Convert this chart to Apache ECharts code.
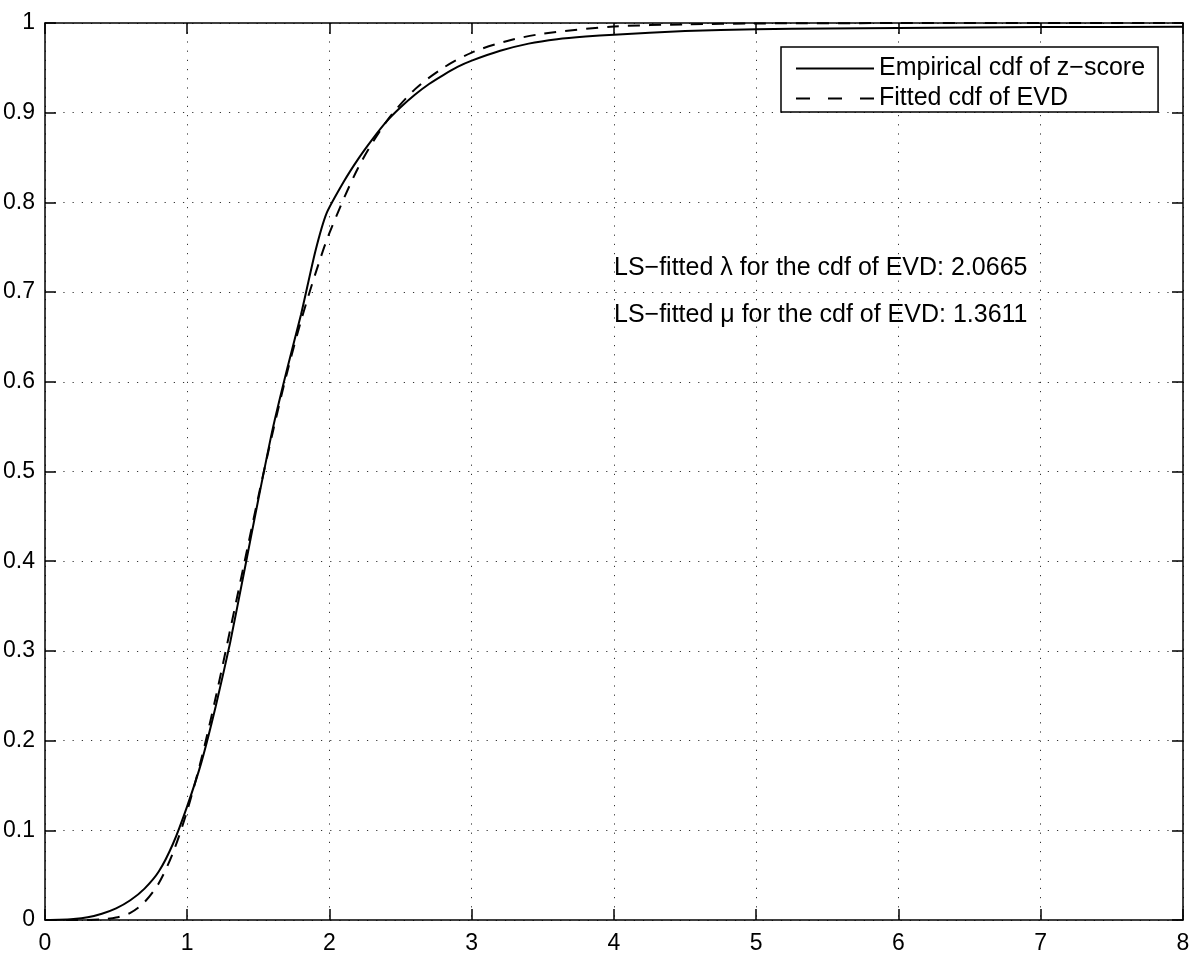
<!DOCTYPE html>
<html>
<head>
<meta charset="utf-8">
<script src="https://cdn.jsdelivr.net/npm/echarts@6/dist/echarts.min.js"></script>
<style>
  html, body { margin: 0; padding: 0; background: #fff; }
  #chart { width: 1200px; height: 955px; }
</style>
</head>
<body>
<div id="chart"></div>
<script>
// Empirical cdf of z-score
const empX = [0, 0.1, 0.2, 0.3, 0.4, 0.5, 0.6, 0.7, 0.8, 0.9, 1.0, 1.1, 1.2, 1.3, 1.4, 1.5, 1.6, 1.7, 1.8, 1.9, 1.98, 2.1, 2.2, 2.3, 2.4, 2.5, 2.6, 2.7, 2.8, 2.9, 3.0, 3.2, 3.4, 3.6, 3.8, 4.0, 4.5, 5.0, 5.5, 6.0, 7.0, 8.0];
const empY = [0, 0.0002, 0.001, 0.003, 0.007, 0.013, 0.022, 0.035, 0.054, 0.085, 0.127, 0.176, 0.238, 0.308, 0.388, 0.469, 0.547, 0.613, 0.675, 0.745, 0.788, 0.823, 0.848, 0.870, 0.890, 0.906, 0.920, 0.932, 0.942, 0.951, 0.958, 0.969, 0.977, 0.982, 0.985, 0.987, 0.991, 0.993, 0.994, 0.9945, 0.9955, 0.9958];

// Fitted cdf of EVD
const fitX = [0, 0.3, 0.4, 0.5, 0.6, 0.7, 0.8, 0.9, 1.0, 1.1, 1.2, 1.3, 1.4, 1.5, 1.6, 1.7, 1.8, 1.9, 2.0, 2.2, 2.4, 2.6, 2.8, 3.0, 3.25, 3.5, 4.0, 4.5, 5.0, 6.0, 8.0];
const fitY = [0, 0.0001, 0.0007, 0.0027, 0.008, 0.020, 0.041, 0.075, 0.122, 0.180, 0.248, 0.322, 0.397, 0.472, 0.543, 0.609, 0.668, 0.720, 0.766, 0.838, 0.890, 0.926, 0.950, 0.967, 0.980, 0.988, 0.996, 0.9985, 0.9995, 0.9999, 1.0];

const seriesNames = ['Empirical cdf of z\u2212score', 'Fitted cdf of EVD'];
const xTicks = [0, 1, 2, 3, 4, 5, 6, 7, 8];
const yTicks = [0, 0.1, 0.2, 0.3, 0.4, 0.5, 0.6, 0.7, 0.8, 0.9, 1];
const annotations = [
  'LS\u2212fitted \u03bb for the cdf of EVD: 2.0665',
  'LS\u2212fitted \u03bc for the cdf of EVD: 1.3611'
];

const FONT = "'Liberation Sans', Arial, Helvetica, sans-serif";
const empData = empX.map((x, i) => [x, empY[i]]);
const fitData = fitX.map((x, i) => [x, fitY[i]]);

const gridLine = { show: true, lineStyle: { color: '#333', width: 1, type: [1.2, 8] } };
const axLine = { show: true, onZero: false, lineStyle: { color: '#000', width: 1.5 } };
const tick = { show: true, inside: true, length: 11, lineStyle: { color: '#000', width: 1.5 } };

const chart = echarts.init(document.getElementById('chart'), null, { renderer: 'canvas' });
chart.setOption({
  backgroundColor: '#fff',
  animation: false,
  textStyle: { fontFamily: FONT },
  grid: { left: 43, right: 17, top: 23, bottom: 32, containLabel: false },
  xAxis: [
    {
      type: 'value', min: xTicks[0], max: xTicks[xTicks.length - 1], interval: 1,
      position: 'bottom',
      axisLine: axLine, axisTick: tick, splitLine: gridLine,
      axisLabel: { fontSize: 23, color: '#000', margin: 12, fontFamily: FONT }
    },
    {
      type: 'value', min: xTicks[0], max: xTicks[xTicks.length - 1], interval: 1,
      position: 'top',
      axisLine: axLine, axisTick: tick, splitLine: { show: false },
      axisLabel: { show: false }
    }
  ],
  yAxis: [
    {
      type: 'value', min: yTicks[0], max: yTicks[yTicks.length - 1], interval: 0.1,
      position: 'left',
      axisLine: axLine, axisTick: tick, splitLine: gridLine,
      axisLabel: {
        fontSize: 23, color: '#000', margin: 10, fontFamily: FONT,
        formatter: v => String(Math.round(v * 10) / 10)
      }
    },
    {
      type: 'value', min: yTicks[0], max: yTicks[yTicks.length - 1], interval: 0.1,
      position: 'right',
      axisLine: axLine, axisTick: tick, splitLine: { show: false },
      axisLabel: { show: false }
    }
  ],
  legend: {
    orient: 'vertical',
    left: 781, top: 47,
    backgroundColor: '#fff',
    borderColor: '#000', borderWidth: 1.5,
    padding: [9, 13, 1, 14],
    itemWidth: 78, itemHeight: 14, itemGap: 5, itemTextGap: 8,
    itemStyle: { opacity: 0 },
    textStyle: { fontSize: 25, color: '#000', fontFamily: FONT, lineHeight: 25 },
    data: [
      { name: seriesNames[0] },
      { name: seriesNames[1], lineStyle: { type: [14, 18], width: 2 } }
    ],
    z: 10
  },
  graphic: annotations.map((t, i) => ({
    type: 'text', left: 614, top: 256 + i * 47, z: 20,
    style: { text: t, fontSize: 25, fill: '#000', fontFamily: FONT }
  })),
  series: [
    {
      name: seriesNames[0], type: 'line', data: empData, symbol: 'none', smooth: 0.2,
      xAxisIndex: 0, yAxisIndex: 0,
      lineStyle: { color: '#000', width: 2, type: 'solid' },
      itemStyle: { color: '#000' }, z: 3
    },
    {
      name: seriesNames[1], type: 'line', data: fitData, symbol: 'none', smooth: 0.3,
      xAxisIndex: 0, yAxisIndex: 0,
      lineStyle: { color: '#000', width: 2, type: [12, 9] },
      itemStyle: { color: '#000' }, z: 2
    }
  ]
});
</script>
</body>
</html>
